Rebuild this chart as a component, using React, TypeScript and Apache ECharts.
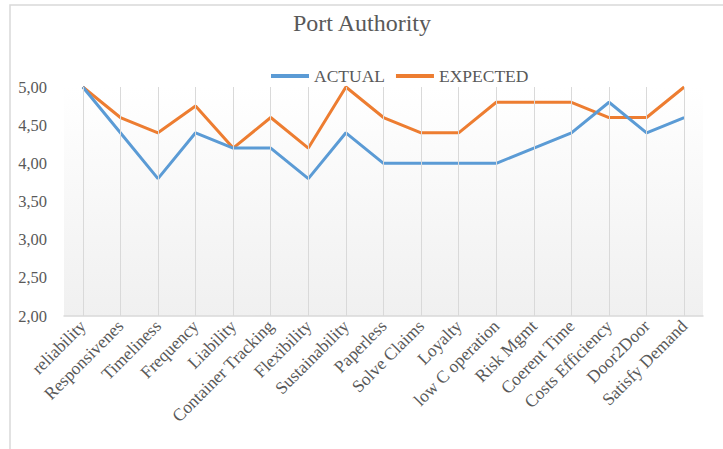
import React, { useEffect, useRef } from "react";
import * as echarts from "echarts";

const categories = [
  "reliability",
  "Responsivenes",
  "Timeliness",
  "Frequency",
  "Liability",
  "Container Tracking",
  "Flexibility",
  "Sustainability",
  "Paperless",
  "Solve Claims",
  "Loyalty",
  "low C operation",
  "Risk Mgmt",
  "Coerent Time",
  "Costs Efficiency",
  "Door2Door",
  "Satisfy Demand",
];

const actual = [5.0, 4.4, 3.8, 4.4, 4.2, 4.2, 3.8, 4.4, 4.0, 4.0, 4.0, 4.0, 4.2, 4.4, 4.8, 4.4, 4.6];
const expected = [5.0, 4.6, 4.4, 4.75, 4.2, 4.6, 4.2, 5.0, 4.6, 4.4, 4.4, 4.8, 4.8, 4.8, 4.6, 4.6, 5.0];

const seriesNames = ["ACTUAL", "EXPECTED"];

const FONT = "'Liberation Serif', 'Times New Roman', serif";

export default function App() {
  const ref = useRef<HTMLDivElement>(null);

  useEffect(() => {
    if (!ref.current) return;
    const chart = echarts.init(ref.current, undefined, { renderer: "svg" });
    chart.setOption({
      animation: false,
      backgroundColor: "#ffffff",
      title: {
        text: "Port Authority",
        left: 357,
        textAlign: "center",
        top: 6,
        textStyle: { fontFamily: FONT, fontSize: 24, fontWeight: "normal", color: "#595959" },
      },
      legend: {
        left: 266,
        top: 62,
        itemWidth: 38,
        itemHeight: 4,
        itemGap: 11,
        icon: "rect",
        textStyle: { fontFamily: FONT, fontSize: 17.5, color: "#595959" },
        data: seriesNames,
      },
      graphic: [
        {
          type: "rect",
          shape: { x: 10, y: 5, width: 730, height: 460 },
          style: { fill: "none", stroke: "#d9d9d9", lineWidth: 1.5 },
          silent: true,
          z: -1,
        },
      ],
      grid: {
        left: 64,
        right: 20,
        top: 87,
        bottom: 133,
        show: true,
        borderWidth: 0,
        backgroundColor: new echarts.graphic.LinearGradient(0, 0, 0, 1, [
          { offset: 0, color: "#ffffff" },
          { offset: 1, color: "#f0f0f0" },
        ]),
      },
      xAxis: {
        type: "category",
        data: categories,
        boundaryGap: true,
        axisLine: { lineStyle: { color: "#d9d9d9", width: 1.5 } },
        axisTick: { show: false },
        splitLine: { show: false },
        axisLabel: {
          rotate: 45,
          interval: 0,
          margin: 7,
          fontFamily: FONT,
          fontSize: 17.5,
          color: "#595959",
        },
      },
      yAxis: {
        type: "value",
        min: 2,
        max: 5,
        interval: 0.5,
        axisLine: { show: false },
        axisTick: { show: false },
        splitLine: { show: false },
        axisLabel: {
          fontFamily: FONT,
          fontSize: 16.5,
          color: "#595959",
          margin: 17,
          formatter: (v: number) => v.toFixed(2).replace(".", ","),
        },
      },
      series: [
        {
          name: "_grid",
          type: "line",
          data: [],
          silent: true,
          z: 1,
          markLine: {
            silent: true,
            symbol: ["none", "none"],
            label: { show: false },
            lineStyle: { color: "#d9d9d9", width: 1, type: "solid" },
            data: categories.map((c) => ({ xAxis: c })),
          },
        },
        {
          name: seriesNames[0],
          type: "line",
          data: actual,
          symbol: "none",
          z: 3,
          lineStyle: { color: "#5B9BD5", width: 3 },
          itemStyle: { color: "#5B9BD5" },
        },
        {
          name: seriesNames[1],
          type: "line",
          data: expected,
          symbol: "none",
          z: 2,
          lineStyle: { color: "#ED7D31", width: 3 },
          itemStyle: { color: "#ED7D31" },
        },
      ],
    });
    return () => chart.dispose();
  }, []);

  return (
    <div
      ref={ref}
      style={{ position: "absolute", left: 0, top: 0, width: 723, height: 449 }}
    />
  );
}
